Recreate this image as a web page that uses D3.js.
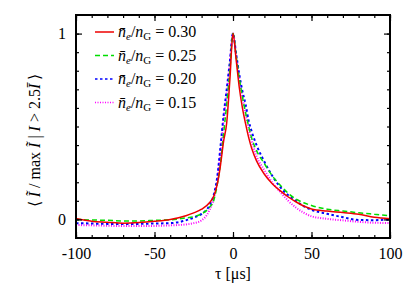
<!DOCTYPE html>
<html>
<head>
<meta charset="utf-8">
<script src="https://cdn.jsdelivr.net/npm/d3@7/dist/d3.min.js"></script>
<style>
  body { margin: 0; background: #fff; }
</style>
</head>
<body>
<div id="chart"></div>
<script>
// data
var tau = [-100, -90, -80, -70, -60, -50, -40, -30, -25, -20, -15, -12, -10, -8, -6, -4, -2, 0,
           2, 4, 6, 8, 10, 12, 15, 20, 25, 30, 35, 40, 45, 50, 60, 70, 80, 90, 100];

var ratio30 = [0.005, -0.01, -0.015, -0.02, -0.017, -0.01, 0.0, 0.02, 0.035, 0.055, 0.09, 0.13, 0.19, 0.29, 0.42, 0.52, 0.75, 1.0,
               0.86, 0.71, 0.60, 0.515, 0.44, 0.38, 0.315, 0.243, 0.192, 0.155, 0.122, 0.095, 0.072, 0.056, 0.045, 0.037, 0.028, 0.012, 0.004];
var ratio25 = [0.0, -0.003, -0.005, -0.008, -0.008, -0.005, -0.002, 0.008, 0.015, 0.03, 0.065, 0.11, 0.19, 0.30, 0.46, 0.62, 0.80, 1.0,
               0.88, 0.76, 0.66, 0.575, 0.50, 0.435, 0.37, 0.30, 0.235, 0.185, 0.142, 0.11, 0.09, 0.075, 0.055, 0.045, 0.036, 0.028, 0.02];
var ratio20 = [-0.02, -0.022, -0.024, -0.024, -0.024, -0.022, -0.02, -0.005, 0.01, 0.03, 0.075, 0.14, 0.23, 0.39, 0.56, 0.70, 0.85, 1.0,
               0.89, 0.78, 0.69, 0.62, 0.53, 0.47, 0.40, 0.31, 0.235, 0.175, 0.132, 0.10, 0.072, 0.052, 0.03, 0.012, -0.003, -0.004, 0.0];
var ratio15 = [-0.03, -0.032, -0.034, -0.036, -0.036, -0.035, -0.032, -0.027, -0.02, -0.005, 0.05, 0.12, 0.215, 0.36, 0.53, 0.68, 0.84, 1.0,
               0.88, 0.76, 0.66, 0.57, 0.49, 0.42, 0.34, 0.265, 0.198, 0.148, 0.102, 0.064, 0.036, 0.017, 0.003, -0.005, -0.013, -0.018, -0.019];

var seriesNames = ["0.30", "0.25", "0.20", "0.15"];
var seriesValues = [ratio30, ratio25, ratio20, ratio15];

var xMajor = [-100, -50, 0, 50, 100];
var xMinor = d3.range(-100, 101, 10);
var yMajor = [0, 1];
var yMinor = d3.range(0, 11).map(function(d) { return d / 10; });

// styles per series
var colors = ["#ee0000", "#00dd00", "#0000ff", "#ff00ff"];
var dashes = [null, "5,3", "2.5,2.5", "1,1.5"];
var widths = [1.5, 1.5, 2, 2];

var serif = "Liberation Serif";

var margin = {top: 15, right: 19, bottom: 48, left: 76},
    width = 409 - margin.left - margin.right,
    height = 286 - margin.top - margin.bottom;

var svg = d3.select("#chart")
  .append("svg")
    .attr("width", 409)
    .attr("height", 286)
    .attr("font-family", serif)
  .append("g")
    .attr("transform", "translate(" + margin.left + "," + margin.top + ")");

var x = d3.scaleLinear().domain([-100, 100]).range([0, width]);
var y = d3.scaleLinear().domain([-0.1, 1.1]).range([height, 0]);

// curves
var line = d3.line()
  .x(function(d) { return x(d[0]); })
  .y(function(d) { return y(d[1]); })
  .curve(d3.curveMonotoneX);

svg.append("defs").append("clipPath").attr("id", "clip")
  .append("rect").attr("width", width).attr("height", height);

// draw back to front so red sits on top like the original
for (var i = seriesValues.length - 1; i >= 0; i--) {
  var pts = tau.map(function(t, j) { return [t, seriesValues[i][j]]; });
  svg.append("path")
    .datum(pts)
    .attr("clip-path", "url(#clip)")
    .attr("fill", "none")
    .attr("stroke", colors[i])
    .attr("stroke-width", widths[i])
    .attr("stroke-dasharray", dashes[i])
    .attr("d", line);
}

// axes: ticks point inward on all four sides
function noDomain(g) { g.select(".domain").remove(); }
var plain = function(d) { return String(d); };

svg.append("g").attr("transform", "translate(0," + height + ")")
  .call(d3.axisBottom(x).tickValues(xMinor).tickSize(-3).tickFormat(""))
  .call(noDomain);
svg.append("g").attr("transform", "translate(0," + height + ")")
  .call(d3.axisBottom(x).tickValues(xMajor).tickSize(-6).tickPadding(10).tickFormat(plain))
  .call(noDomain);
svg.append("g")
  .call(d3.axisTop(x).tickValues(xMinor).tickSize(-3).tickFormat(""))
  .call(noDomain);
svg.append("g")
  .call(d3.axisTop(x).tickValues(xMajor).tickSize(-6).tickFormat(""))
  .call(noDomain);

svg.append("g")
  .call(d3.axisLeft(y).tickValues(yMinor).tickSize(-3).tickFormat(""))
  .call(noDomain);
svg.append("g")
  .call(d3.axisLeft(y).tickValues(yMajor).tickSize(-6).tickPadding(10).tickFormat(plain))
  .call(noDomain);
svg.append("g").attr("transform", "translate(" + width + ",0)")
  .call(d3.axisRight(y).tickValues(yMinor).tickSize(-3).tickFormat(""))
  .call(noDomain);
svg.append("g").attr("transform", "translate(" + width + ",0)")
  .call(d3.axisRight(y).tickValues(yMajor).tickSize(-6).tickFormat(""))
  .call(noDomain);

svg.selectAll(".tick line").attr("stroke", "#000").attr("stroke-width", 1.2);
svg.selectAll("g").attr("font-family", serif);
svg.selectAll(".tick text")
  .attr("font-family", serif)
  .attr("font-size", 16)
  .attr("fill", "#000");

// frame
svg.append("rect")
  .attr("width", width)
  .attr("height", height)
  .attr("fill", "none")
  .attr("stroke", "#000")
  .attr("stroke-width", 2);

// axis labels
svg.append("text")
  .attr("x", x(0))
  .attr("y", height + 41)
  .attr("text-anchor", "middle")
  .attr("font-size", 16)
  .attr("font-family", serif)
  .text("\u03c4  [\u03bcs]");

var ylab = svg.append("text")
  .attr("transform", "translate(-36," + (y(0.5) + 14) + ") rotate(-90)")
  .attr("text-anchor", "middle")
  .attr("font-size", 16)
  .attr("font-family", serif);
ylab.append("tspan").text("\u27e8 ");
ylab.append("tspan").attr("font-style", "italic").text("I\u0303");
ylab.append("tspan").text(" / max ");
ylab.append("tspan").attr("font-style", "italic").text("I\u0303");
ylab.append("tspan").text(" | ");
ylab.append("tspan").attr("font-style", "italic").text("I");
ylab.append("tspan").text(" > 2.5");
ylab.append("tspan").attr("font-style", "italic").text("I\u0304");
ylab.append("tspan").text(" \u27e9");

// legend
var rowH = 23.5;
var legend = svg.selectAll(".leg")
  .data(seriesNames)
  .enter()
  .append("g")
    .attr("transform", function(d, i) { return "translate(0," + (17 + i * rowH) + ")"; });

legend.append("line")
  .attr("x1", 19).attr("x2", 38)
  .attr("stroke", function(d, i) { return colors[i]; })
  .attr("stroke-width", 1.5)
  .attr("stroke-dasharray", function(d, i) { return dashes[i]; });

var lt = legend.append("text")
  .attr("x", 42)
  .attr("y", 5)
  .attr("font-size", 16)
  .attr("font-family", serif);
lt.append("tspan").attr("font-style", "italic").text("n\u0304");
lt.append("tspan").attr("font-style", "italic").attr("font-size", 11).attr("dy", 3).text("e");
lt.append("tspan").attr("dy", -3).text("/");
lt.append("tspan").attr("font-style", "italic").text("n");
lt.append("tspan").attr("font-size", 11).attr("dy", 3).text("G");
lt.append("tspan").attr("dy", -3).text(" = ");
lt.append("tspan").text(function(d) { return d; });
</script>
</body>
</html>
